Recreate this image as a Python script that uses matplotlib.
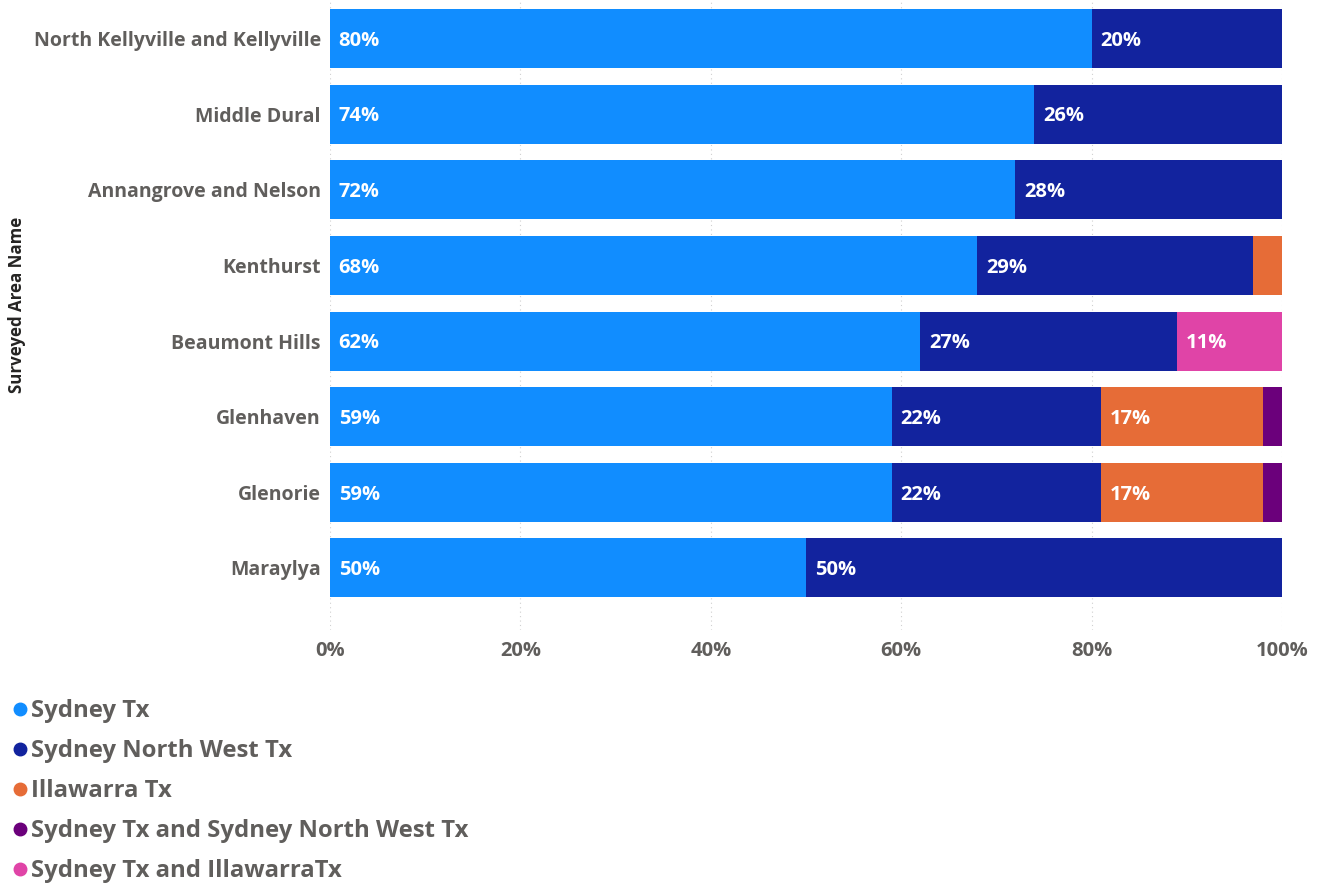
import matplotlib.pyplot as plt
from matplotlib.lines import Line2D
import numpy as np

plt.rcParams['font.family'] = ['Open Sans', 'DejaVu Sans']

areas = ['North Kellyville and Kellyville', 'Middle Dural', 'Annangrove and Nelson',
         'Kenthurst', 'Beaumont Hills', 'Glenhaven', 'Glenorie', 'Maraylya']
series = ['Sydney Tx', 'Sydney North West Tx', 'Illawarra Tx',
          'Sydney Tx and Sydney North West Tx', 'Sydney Tx and IllawarraTx']
sydney = [80, 74, 72, 68, 62, 59, 59, 50]
sydney_nw = [20, 26, 28, 29, 27, 22, 22, 50]
illawarra = [0, 0, 0, 3, 0, 17, 17, 0]
sydney_and_nw = [0, 0, 0, 0, 0, 2, 2, 0]
sydney_and_illawarra = [0, 0, 0, 0, 11, 0, 0, 0]
colors = ['#118DFF', '#12239E', '#E66C37', '#6B007B', '#E044A7']

values = [sydney, sydney_nw, illawarra, sydney_and_nw, sydney_and_illawarra]
grey = '#605E5C'

fig = plt.figure(figsize=(13.26, 8.89), dpi=100)
ax = fig.add_axes([330 / 1326, 1 - 630 / 889, 952 / 1326, 630 / 889])

y = np.arange(len(areas))
left = np.zeros(len(areas))
for name, vals, col in zip(series, values, colors):
    vals = np.array(vals, dtype=float)
    ax.barh(y, vals, left=left, height=0.78, color=col, zorder=3)
    for yi, l, v in zip(y, left, vals):
        if v >= 5:
            ax.text(l + 0.9, yi + 0.03, f'{v:.0f}%', color='white', fontsize=14.5,
                    fontweight='bold', va='center', ha='left', zorder=4)
    left += vals

ax.set_xlim(0, 100)
ax.set_ylim(7.82, -0.51)
ax.set_yticks(y)
ax.set_yticklabels(areas, fontsize=14, fontweight='bold', color=grey)
ax.set_xticks(np.arange(0, 101, 20))
ax.set_xticklabels([f'{t}%' for t in range(0, 101, 20)], fontsize=14.5,
                   fontweight='bold', color=grey)
ax.tick_params(length=0, axis='y', pad=6.5)
ax.tick_params(length=0, axis='x', pad=8)
ax.grid(axis='x', color='#D0D0D0', linestyle=(0, (1, 3)), linewidth=0.8, zorder=0)
for s in ax.spines.values():
    s.set_visible(False)

fig.text(17 / 1326, 1 - 305 / 889, 'Surveyed Area Name', rotation=90,
         fontsize=12.2, fontweight='bold', color='#252423', ha='center', va='center')

# legend drawn as a vertical list below the chart
for i, (name, col) in enumerate(zip(series, colors)):
    ypos = 1 - (709 + 40 * i) / 889
    fig.add_artist(Line2D([20 / 1326], [ypos], marker='o', markersize=9,
                          color=col, linestyle='none', transform=fig.transFigure))
    fig.text(31 / 1326, ypos - 2 / 889, name, fontsize=17.2, fontweight='bold',
             color=grey, ha='left', va='center')

fig.savefig('out.png', dpi=100)
